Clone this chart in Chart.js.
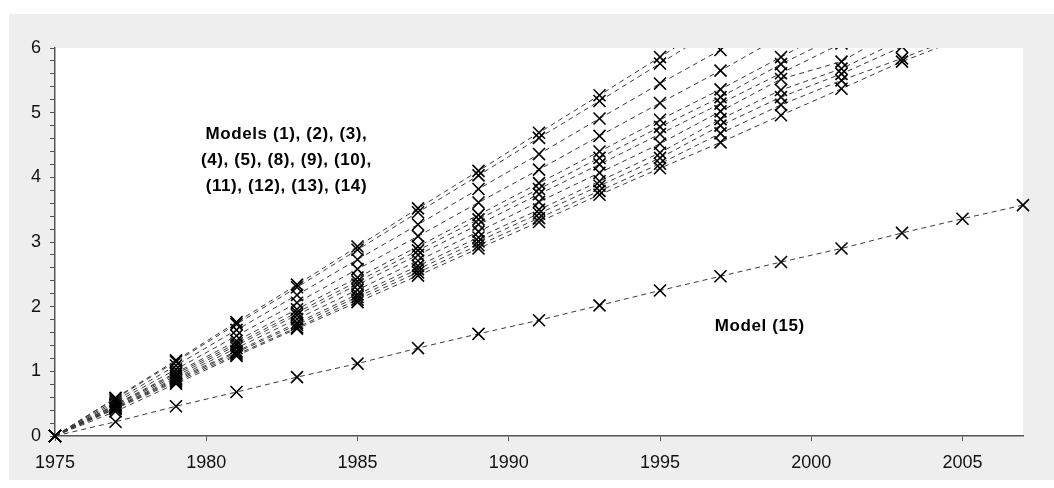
<!DOCTYPE html>
<html>
<head>
<meta charset="utf-8">
<script src="https://cdn.jsdelivr.net/npm/chart.js@4.4.1/dist/chart.umd.min.js"></script>
<style>
  html, body { margin: 0; padding: 0; background: #fff; }
  #wrap { position: relative; width: 1054px; height: 488px; overflow: hidden; }
  canvas { display: block; }
</style>
</head>
<body>
<div id="wrap"><canvas id="chart" width="1054" height="488"></canvas></div>
<script>
// years at which every model is plotted
const years = [1975, 1977, 1979, 1981, 1983, 1985, 1987, 1989, 1991, 1993, 1995, 1997, 1999, 2001, 2003, 2005, 2007];
const xTicks = [1975, 1980, 1985, 1990, 1995, 2000, 2005];

// the twelve models in the upper bundle, steepest first
const model1  = [0, 0.59, 1.17, 1.76, 2.34, 2.93, 3.52, 4.10, 4.69, 5.27, 5.86, 6.45];
const model2  = [0, 0.58, 1.15, 1.73, 2.30, 2.88, 3.46, 4.03, 4.61, 5.18, 5.76, 6.34];
const model3  = [0, 0.55, 1.09, 1.64, 2.18, 2.73, 3.27, 3.82, 4.36, 4.91, 5.45, 5.97, 6.54];
const model4  = [0, 0.52, 1.03, 1.55, 2.06, 2.58, 3.09, 3.61, 4.12, 4.64, 5.15, 5.65, 6.18];
const model5  = [0, 0.49, 0.98, 1.47, 1.96, 2.45, 2.93, 3.42, 3.91, 4.40, 4.89, 5.36, 5.86, 6.36];
const model8  = [0, 0.48, 0.96, 1.43, 1.91, 2.39, 2.87, 3.35, 3.82, 4.30, 4.78, 5.24, 5.75, 6.21];
const model9  = [0, 0.47, 0.93, 1.40, 1.87, 2.34, 2.80, 3.27, 3.74, 4.20, 4.67, 5.14, 5.61, 6.07];
const model10 = [0, 0.45, 0.90, 1.36, 1.81, 2.26, 2.71, 3.16, 3.62, 4.07, 4.52, 5.02, 5.52, 5.79, 6.33];
const model11 = [0, 0.44, 0.88, 1.31, 1.75, 2.19, 2.63, 3.07, 3.50, 3.94, 4.38, 4.90, 5.35, 5.68, 6.13];
const model12 = [0, 0.43, 0.86, 1.29, 1.72, 2.15, 2.58, 3.01, 3.44, 3.87, 4.30, 4.80, 5.24, 5.60, 6.02];
const model13 = [0, 0.42, 0.84, 1.26, 1.68, 2.11, 2.53, 2.95, 3.37, 3.79, 4.21, 4.68, 5.12, 5.50, 5.84, 6.20];
const model14 = [0, 0.38, 0.81, 1.24, 1.66, 2.07, 2.48, 2.90, 3.31, 3.73, 4.14, 4.54, 4.96, 5.37, 5.79, 6.15];
// the lower line
const model15 = [0, 0.22, 0.46, 0.68, 0.91, 1.12, 1.36, 1.58, 1.79, 2.02, 2.25, 2.47, 2.69, 2.90, 3.14, 3.36, 3.57];

const bundle = [model1, model2, model3, model4, model5, model8, model9, model10, model11, model12, model13, model14];

function toPoints(values) {
    return values.map((v, i) => ({ x: years[i], y: v }));
}

function makeSet(values) {
    return {
        data: toPoints(values),
        borderColor: '#3a3a3a',
        borderWidth: 1,
        borderDash: [5, 4],
        pointStyle: 'crossRot',
        pointRadius: 8.5,
        pointBorderWidth: 1.6,
        pointBorderColor: '#000',
        pointBackgroundColor: '#000',
        tension: 0,
        clip: { left: 12, right: 12, top: 0, bottom: 12 }
    };
}

const datasets = bundle.map(makeSet).concat([makeSet(model15)]);

// grey panel behind the white plot area
const panelPlugin = {
    id: 'panel',
    beforeDraw(chart) {
        const ctx = chart.ctx;
        const a = chart.chartArea;
        ctx.save();
        ctx.fillStyle = '#fff';
        ctx.fillRect(0, 0, chart.width, chart.height);
        ctx.fillStyle = '#eeeeee';
        ctx.fillRect(9, 14, chart.width - 9, 466);
        ctx.fillStyle = '#fff';
        ctx.fillRect(a.left, a.top, a.right - a.left, a.bottom - a.top);
        ctx.restore();
    }
};

// the two bold labels inside the plot
const labelPlugin = {
    id: 'labels',
    afterDatasetsDraw(chart) {
        const ctx = chart.ctx;
        const xs = chart.scales.x, ys = chart.scales.y;
        ctx.save();
        ctx.fillStyle = '#000';
        ctx.font = 'bold 17px "Liberation Sans", Arial, sans-serif';
        ctx.letterSpacing = '0.6px';
        ctx.textAlign = 'center';
        ctx.textBaseline = 'middle';
        const cx = xs.getPixelForValue(1982.65);
        ctx.fillText('Models (1), (2), (3),', cx, ys.getPixelForValue(4.67));
        ctx.fillText('(4), (5), (8), (9), (10),', cx, ys.getPixelForValue(4.26));
        ctx.fillText('(11), (12), (13), (14)', cx, ys.getPixelForValue(3.86));
        ctx.fillText('Model (15)', xs.getPixelForValue(1998.3), ys.getPixelForValue(1.7));
        ctx.restore();
    }
};

new Chart(document.getElementById('chart'), {
    type: 'line',
    data: { datasets: datasets },
    options: {
        responsive: false,
        animation: false,
        events: [],
        layout: { padding: { left: 9, top: 48, right: 31, bottom: 0 } },
        plugins: { legend: { display: false }, tooltip: { enabled: false } },
        scales: {
            x: {
                type: 'linear',
                min: 1975,
                max: 2007,
                afterFit(scale) { scale.height = 52; },
                afterBuildTicks(scale) { scale.ticks = xTicks.map(v => ({ value: v })); },
                border: { display: true, color: '#555', width: 1.5 },
                grid: { display: true, drawOnChartArea: false, drawTicks: true, tickLength: 5, color: '#555' },
                ticks: {
                    color: '#111',
                    padding: 11,
                    font: { family: '"Liberation Sans", Arial, sans-serif', size: 18 },
                    callback: v => String(v),
                    maxRotation: 0
                }
            },
            y: {
                min: 0,
                max: 6,
                afterFit(scale) { scale.width = 46; },
                border: { display: true, color: '#555', width: 1.5 },
                grid: { display: true, drawOnChartArea: false, drawTicks: true, tickLength: 5, color: '#555' },
                ticks: {
                    stepSize: 0.2,
                    autoSkip: false,
                    color: '#111',
                    padding: 9,
                    font: { family: '"Liberation Sans", Arial, sans-serif', size: 18 },
                    callback: v => (Math.abs(v - Math.round(v)) < 1e-6 ? String(Math.round(v)) : '')
                }
            }
        }
    },
    plugins: [panelPlugin, labelPlugin]
});
</script>
</body>
</html>
